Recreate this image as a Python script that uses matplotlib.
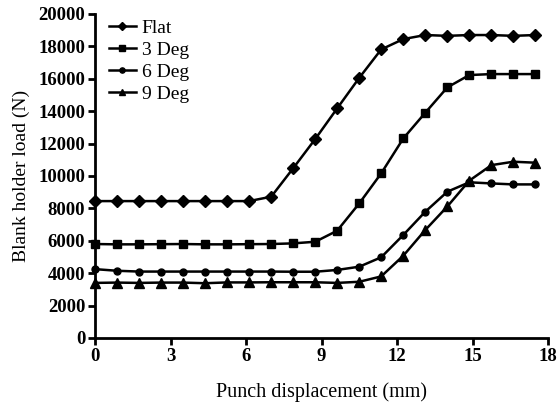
import matplotlib
matplotlib.use('Agg')
import matplotlib.pyplot as plt

# Punch displacement (mm)
desplazamiento = [0, 0.87, 1.75, 2.62, 3.5, 4.37, 5.25, 6.12, 7.0, 7.87, 8.75,
                  9.62, 10.5, 11.37, 12.25, 13.12, 14.0, 14.87, 15.75, 16.62, 17.5]

# Blank holder load (N) per series
flat = [8450, 8450, 8450, 8450, 8450, 8450, 8450, 8450, 8720, 10470, 12280,
        14170, 16060, 17810, 18450, 18700, 18650, 18700, 18700, 18650, 18700]
deg3 = [5800, 5780, 5780, 5790, 5800, 5780, 5780, 5790, 5800, 5840, 5940,
        6620, 8310, 10160, 12320, 13900, 15470, 16230, 16290, 16290, 16290]
deg6 = [4250, 4150, 4100, 4100, 4100, 4100, 4100, 4100, 4100, 4090, 4090,
        4200, 4400, 4980, 6360, 7790, 9030, 9610, 9540, 9480, 9480]
deg9 = [3400, 3420, 3400, 3420, 3420, 3380, 3430, 3430, 3440, 3440, 3440,
        3400, 3470, 3800, 5080, 6660, 8120, 9710, 10670, 10880, 10820]

series = [('Flat', flat, 'D', 6), ('3 Deg', deg3, 's', 6),
          ('6 Deg', deg6, 'o', 5), ('9 Deg', deg9, '^', 6.5)]

fig = plt.figure(figsize=(5.57, 4.04), dpi=100)
ax = fig.add_axes([0.1706, 0.1634, 0.8133, 0.802])

for nombre, valores, marca, tam in series:
    ax.plot(desplazamiento, valores, color='black', linewidth=1.8,
            marker=marca, markersize=tam, label=nombre, clip_on=False)

ax.set_xlim(0, 18)
ax.set_ylim(0, 20000)
ax.set_xticks([0, 3, 6, 9, 12, 15, 18])
ax.set_yticks(range(0, 20001, 2000))

for lado in ['top', 'right']:
    ax.spines[lado].set_visible(False)
for lado in ['left', 'bottom']:
    ax.spines[lado].set_linewidth(2)

ax.tick_params(direction='out', length=5, width=2, labelsize=13.5, pad=2)
for etiqueta in ax.get_xticklabels() + ax.get_yticklabels():
    etiqueta.set_fontfamily('Liberation Serif')
    etiqueta.set_fontweight('bold')

ax.set_xlabel('Punch displacement (mm)', fontfamily='Liberation Serif',
              fontsize=14.5, labelpad=13)
ax.set_ylabel('Blank holder load (N)', fontfamily='Liberation Serif',
              fontsize=14, labelpad=6)

ax.legend(loc='upper left', bbox_to_anchor=(0.0, 1.025), frameon=False,
          prop={'family': 'Liberation Serif', 'size': 14},
          handlelength=1.4, handletextpad=0.3, labelspacing=0.22,
          borderpad=0.2, markerscale=0.75)

fig.savefig('out.png', dpi=100)
